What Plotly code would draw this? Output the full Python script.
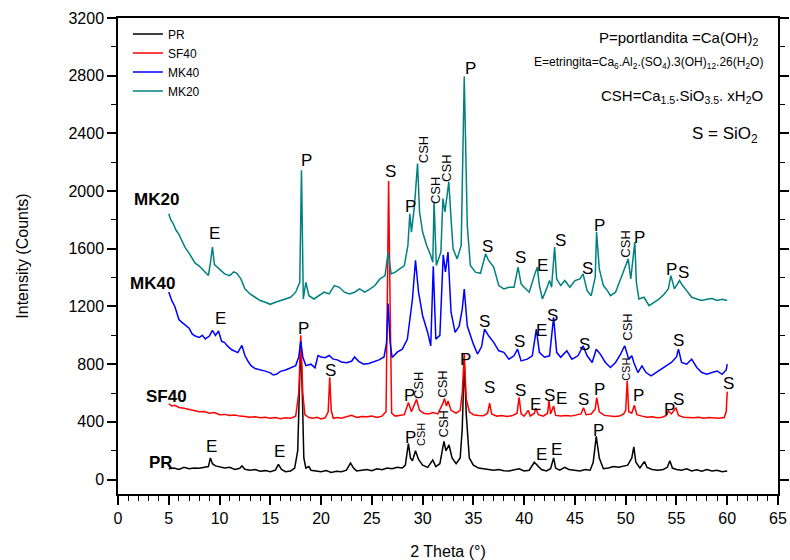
import plotly.graph_objects as go

# ---------------- data ----------------
pr_x = [5.0, 5.5, 6.0, 6.5, 7.0, 7.5, 8.0, 8.5, 8.9, 9.1, 9.3, 9.6, 10.0, 10.5, 11.0, 11.5, 12.0, 12.2, 12.5,
        13.0, 13.5, 14.0, 14.5, 15.0, 15.5, 15.8, 16.1, 16.5, 17.0, 17.4, 17.7, 17.85, 18.0, 18.15, 18.3, 18.5,
        18.8, 19.0, 19.5, 20.0, 20.5, 21.0, 21.5, 22.0, 22.5, 22.9, 23.2, 23.5, 24.0, 24.5, 25.0, 25.5, 26.0,
        26.5, 27.0, 27.5, 28.0, 28.3, 28.6, 28.8, 29.0, 29.3, 29.6, 30.0, 30.5, 31.0, 31.3, 31.7, 32.1, 32.3,
        32.6, 32.9, 33.3, 33.7, 33.9, 34.1, 34.3, 34.6, 35.0, 35.5, 36.0, 36.5, 37.0, 37.5, 38.0, 38.5, 39.0,
        39.5, 40.0, 40.5, 41.0, 41.3, 41.7, 42.2, 42.6, 42.9, 43.1, 43.5, 44.0, 44.4, 45.0, 45.5, 46.0, 46.5,
        46.8, 47.1, 47.4, 47.8, 48.3, 48.8, 49.3, 49.8, 50.2, 50.6, 50.8, 51.0, 51.4, 51.85, 52.1, 52.6, 53.2,
        53.7, 54.1, 54.35, 54.6, 55.0, 55.5, 56.0, 56.5, 57.0, 57.5, 58.0, 58.5, 59.0, 59.5, 60.0]
pr_y = [75, 80, 70, 85, 75, 80, 78, 85, 90, 150, 110, 95, 90, 80, 85, 70, 78, 95, 72,
        65, 70, 58, 62, 55, 65, 105, 70, 55, 60, 80, 200, 600, 960, 600, 150, 80,
        90, 65, 60, 55, 62, 50, 58, 55, 65, 115, 80, 60, 65, 70, 62, 75, 68,
        80, 75, 85, 80, 100, 250, 150, 130, 200, 140, 100, 85, 135, 90, 110, 265, 200,
        240, 150, 110, 150, 350, 820, 450, 150, 100, 80, 75, 70, 65, 70, 62, 60, 65,
        75, 60, 65, 120, 100, 70, 60, 75, 150, 80, 65, 85, 70, 65, 60, 70, 65,
        120, 300, 150, 75, 80, 90, 85, 95, 100, 150, 227, 120, 80, 125, 85, 70, 65,
        70, 85, 130, 80, 70, 65, 75, 60, 68, 58, 70, 60, 65, 55, 60]

sf40_x = [5.0, 5.3, 5.6, 6.0, 6.5, 7.0, 7.5, 8.0, 8.5, 9.0, 9.5, 10.0, 10.5, 11.0, 11.5, 12.0, 12.5, 13.0,
          13.5, 14.0, 14.5, 15.0, 15.5, 16.0, 16.5, 17.0, 17.5, 17.8, 18.0, 18.2, 18.4, 18.8, 19.2, 19.6,
          20.0, 20.4, 20.7, 20.85, 21.0, 21.2, 21.6, 22.0, 22.5, 23.0, 23.5, 24.0, 24.5, 25.0, 25.5, 26.0,
          26.4, 26.55, 26.65, 26.8, 26.95, 27.3, 27.8, 28.2, 28.6, 28.9, 29.4, 29.7, 30.1, 30.6, 31.0, 31.5,
          32.0, 32.15, 32.35, 32.5, 32.8, 33.3, 33.7, 33.9, 34.1, 34.3, 34.6, 35.0, 35.5, 36.0, 36.4, 36.6,
          36.8, 37.3, 37.8, 38.3, 38.8, 39.3, 39.5, 39.7, 40.0, 40.4, 40.6, 41.0, 41.15, 41.4, 41.9, 42.3,
          42.45, 42.6, 42.9, 43.1, 43.6, 44.1, 44.6, 45.1, 45.6, 45.85, 46.1, 46.6, 47.0, 47.15, 47.4, 47.9,
          48.4, 48.9, 49.4, 49.8, 50.0, 50.15, 50.3, 50.6, 50.85, 51.1, 51.6, 52.1, 52.6, 53.1, 53.6, 54.0,
          54.2, 54.5, 54.95, 55.2, 55.7, 56.2, 56.7, 57.2, 57.7, 58.2, 58.7, 59.2, 59.7, 59.9, 60.0]
sf40_y = [525, 510, 515, 500, 495, 485, 480, 470, 472, 460, 465, 450, 452, 445, 448, 440, 438, 432,
          435, 428, 432, 425, 430, 422, 428, 425, 440, 600, 1000, 600, 450, 430, 425, 432,
          420, 428, 470, 710, 480, 425, 430, 425, 435, 445, 430, 438, 435, 440, 430, 440,
          470, 1500, 2070, 1200, 460, 440, 445, 450, 535, 470, 556, 480, 460, 455, 465, 455,
          530, 563, 510, 545, 480, 460, 480, 600, 870, 560, 470, 450, 445, 442, 460, 530,
          455, 440, 445, 438, 442, 460, 570, 455, 440, 480, 440, 460, 494, 450, 440, 460,
          545, 455, 510, 445, 440, 445, 440, 450, 455, 498, 450, 455, 490, 568, 470, 445,
          440, 438, 440, 455, 480, 684, 470, 460, 515, 450, 440, 432, 435, 428, 432, 445,
          475, 455, 498, 445, 432, 430, 428, 432, 425, 430, 428, 425, 430, 470, 610]

mk40_x = [5.0, 5.3, 5.6, 6.0, 6.3, 6.6, 7.0, 7.3, 7.6, 8.0, 8.3, 8.6, 9.0, 9.3, 9.6, 9.9, 10.2, 10.5, 10.8,
          11.2, 11.5, 11.8, 12.2, 12.5, 12.8, 13.1, 13.5, 14.0, 14.5, 15.0, 15.3, 15.6, 16.0, 16.5, 17.0,
          17.5, 17.8, 18.0, 18.2, 18.5, 19.0, 19.4, 19.7, 20.0, 20.4, 20.8, 21.2, 21.6, 22.0, 22.5, 23.0,
          23.3, 23.7, 24.2, 24.7, 25.2, 25.7, 26.2, 26.45, 26.6, 26.8, 27.0, 27.5, 28.0, 28.5, 29.0, 29.3,
          29.6, 30.0, 30.5, 30.8, 31.05, 31.3, 31.7, 32.03, 32.25, 32.5, 32.8, 33.2, 33.6, 33.9, 34.1, 34.4,
          35.0, 35.4, 35.8, 36.1, 36.5, 37.0, 37.5, 38.0, 38.5, 39.0, 39.35, 39.7, 40.3, 40.8, 41.2, 41.5,
          42.0, 42.5, 42.9, 43.2, 43.6, 44.2, 44.7, 45.3, 45.8, 46.2, 46.7, 47.1, 47.5, 48.0, 48.5, 49.0,
          49.5, 49.9, 50.3, 50.6, 50.8, 51.2, 51.6, 52.0, 52.5, 53.0, 53.5, 54.0, 54.5, 55.0, 55.2, 55.5,
          56.0, 56.5, 57.0, 57.5, 58.0, 58.5, 59.0, 59.5, 59.9, 60.0]
mk40_y = [1300, 1240, 1200, 1110, 1090, 1075, 1050, 1010, 995, 985, 1000, 975, 995, 1035, 1000, 1030, 960, 950, 925,
          900, 890, 880, 930, 860, 820, 790, 770, 762, 752, 740, 725, 730, 750, 760, 775,
          790, 850, 960, 850, 790, 800, 775, 860, 850, 845, 860, 835, 830, 815, 810, 820,
          850, 820, 800, 805, 815, 830, 850, 950, 1220, 950, 846, 883, 904, 974, 1252, 1520,
          1300, 1136, 1020, 927, 1478, 974, 1000, 1558, 1440, 1577, 1160, 1020, 1064, 1180, 1320, 1064,
          939, 870, 920, 1043, 997, 951, 893, 882, 835, 858, 904, 823, 835, 858, 1043, 882,
          848, 858, 1125, 882, 848, 893, 835, 858, 928, 858, 812, 904, 870, 812, 777, 812,
          870, 928, 835, 858, 812, 742, 788, 742, 719, 742, 765, 788, 812, 850, 904, 812,
          800, 835, 777, 742, 730, 742, 753, 730, 760, 800]

mk20_x = [5.0, 5.2, 5.4, 5.7, 6.0, 6.3, 6.6, 7.0, 7.3, 7.6, 8.0, 8.3, 8.6, 8.9, 9.1, 9.3, 9.5, 9.8, 10.1,
          10.5, 11.0, 11.4, 11.7, 12.1, 12.5, 13.0, 13.5, 14.0, 14.5, 15.0, 15.5, 16.0, 16.5, 17.0, 17.5,
          17.9, 18.07, 18.25, 18.5, 18.8, 19.3, 19.8, 20.3, 20.8, 21.3, 21.8, 22.3, 22.8, 23.3, 23.8, 24.3,
          24.8, 25.3, 25.8, 26.3, 26.6, 26.9, 27.3, 27.8, 28.2, 28.55, 28.74, 28.9, 29.2, 29.5, 29.7, 30.0,
          30.4, 30.8, 31.0, 31.13, 31.35, 31.8, 32.0, 32.2, 32.58, 32.8, 33.0, 33.4, 33.8, 34.1, 34.4, 34.7,
          35.2, 35.7, 36.2, 36.5, 37.0, 37.5, 38.0, 38.5, 39.0, 39.4, 39.7, 40.0, 40.5, 41.0, 41.3, 41.5,
          41.8, 42.2, 42.5, 42.7, 43.0, 43.2, 43.6, 44.0, 44.5, 45.0, 45.5, 45.8, 46.2, 46.6, 47.0, 47.13,
          47.4, 47.8, 48.2, 48.5, 49.0, 49.5, 50.0, 50.25, 50.5, 50.9, 51.05, 51.3, 51.8, 52.3, 52.8, 53.3,
          53.8, 54.2, 54.45, 54.8, 55.3, 55.6, 56.0, 56.5, 57.0, 57.5, 58.0, 58.5, 59.0, 59.5, 60.0]
mk20_y = [1843, 1800, 1780, 1730, 1700, 1660, 1610, 1570, 1530, 1500, 1480, 1460, 1440, 1415, 1500, 1612, 1490, 1470, 1455,
          1426, 1414, 1440, 1430, 1391, 1322, 1287, 1264, 1241, 1229, 1215, 1229, 1241, 1252, 1264, 1299,
          1368, 2145, 1252, 1368, 1275, 1252, 1275, 1299, 1287, 1345, 1333, 1299, 1287, 1299, 1322, 1299,
          1320, 1345, 1391, 1414, 1577, 1426, 1438, 1461, 1484, 1623, 1843, 1716, 1901, 2191, 1855, 1716,
          1623, 1553, 1507, 1924, 1484, 1577, 1948, 1855, 2064, 1809, 1600, 1530, 1623, 2794, 1762, 1484,
          1438, 1430, 1565, 1519, 1473, 1345, 1322, 1333, 1333, 1473, 1357, 1333, 1299, 1414, 1473, 1345,
          1252, 1322, 1380, 1333, 1612, 1391, 1345, 1380, 1333, 1380, 1391, 1426, 1310, 1275, 1403, 1716,
          1461, 1345, 1310, 1275, 1299, 1391, 1480, 1530, 1391, 1647, 1368, 1252, 1264, 1206, 1229, 1252,
          1287, 1322, 1414, 1322, 1380, 1345, 1310, 1264, 1252, 1241, 1250, 1255, 1241, 1250, 1241]

series_names = ["PR", "SF40", "MK40", "MK20"]
series_colors = ["#000000", "#FF0000", "#0000FF", "#008080"]

# Peak letters: (text, 2theta, counts)
peak_letters = [
    ("E", 9.53, 1704), ("P", 18.56, 2210), ("S", 26.84, 2134), ("P", 28.81, 1892), ("P", 34.75, 2852),
    ("S", 36.39, 1619), ("S", 39.67, 1542), ("E", 41.81, 1484), ("S", 43.62, 1658), ("S", 46.21, 1461),
    ("P", 47.39, 1762), ("P", 51.4, 1681), ("P", 54.52, 1456), ("S", 55.67, 1433),
    ("E", 10.09, 1118), ("P", 18.3, 1048), ("S", 36.13, 1099), ("S", 39.58, 960), ("E", 41.71, 1032),
    ("S", 42.83, 1136), ("S", 45.98, 939), ("S", 55.24, 962),
    ("S", 20.96, 753), ("P", 28.74, 584), ("P", 34.26, 835), ("S", 36.62, 638), ("S", 39.65, 621),
    ("E", 41.15, 522), ("S", 42.46, 584), ("E", 43.68, 561), ("S", 45.88, 557), ("P", 47.39, 626),
    ("P", 51.23, 584), ("P", 54.35, 487), ("S", 55.17, 557), ("S", 60.1, 666),
    ("E", 9.2, 232), ("E", 15.86, 197), ("P", 28.81, 290), ("E", 41.71, 174), ("E", 43.19, 209),
    ("P", 47.29, 343),
]
# CSH labels (vertical): (2theta, counts, small?)
csh_labels = [
    (30.05, 2284, False), (31.2, 2006, False), (32.35, 2157, False), (50.02, 1635, False),
    (50.09, 1057, False), (29.66, 649, False), (31.96, 661, False), (50.09, 765, True),
    (29.89, 313, True), (32.02, 383, False),
]
# Sample names next to the curves: (text, 2theta, counts)
sample_labels = [("MK20", 3.78, 1941), ("MK40", 3.39, 1357), ("SF40", 4.77, 573), ("PR", 4.21, 120)]

# Phase key text block: (html text, 2theta of right edge, counts, font size)
phase_key = [
    ("P=portlandita =Ca(OH)<sub>2</sub>", 63.22, 3061, 15),
    ("E=etringita=Ca<sub>6</sub>.Al<sub>2</sub>.(SO<sub>4</sub>).3(OH)<sub>12</sub>.26(H<sub>2</sub>O)", 63.72, 2887, 12),
    ("CSH=Ca<sub>1.5</sub>.SiO<sub>3.5</sub>. xH<sub>2</sub>O", 63.72, 2657, 15),
    ("S = SiO<sub>2</sub>", 63.22, 2386, 17),
]

FONT = "Arial, Liberation Sans, sans-serif"

fig = go.Figure()
for name, xs, ys, col in zip(series_names, [pr_x, sf40_x, mk40_x, mk20_x],
                              [pr_y, sf40_y, mk40_y, mk20_y], series_colors):
    fig.add_trace(go.Scatter(x=xs, y=ys, mode="lines", name=name,
                             line=dict(color=col, width=1.5)))

ann = []
for t, x, y in peak_letters:
    ann.append(dict(x=x, y=y, text=t, showarrow=False, xanchor="center", yanchor="middle",
                    font=dict(family=FONT, size=17, color="black")))
for x, y, small in csh_labels:
    ann.append(dict(x=x, y=y, text="CSH", showarrow=False, textangle=-90, xanchor="center", yanchor="middle",
                    font=dict(family=FONT, size=11 if small else 13, color="black")))
for t, x, y in sample_labels:
    ann.append(dict(x=x, y=y, text="<b>" + t + "</b>", showarrow=False, xanchor="center", yanchor="middle",
                    font=dict(family=FONT, size=17, color="black")))
for t, x, y, s in phase_key:
    ann.append(dict(x=x, y=y, text=t, showarrow=False, xanchor="right", yanchor="middle",
                    font=dict(family=FONT, size=s, color="black")))

axis_common = dict(showline=True, linecolor="black", linewidth=1.5, ticks="outside", tickcolor="black",
                   tickwidth=1.5, showgrid=False, zeroline=False, automargin=False,
                   tickfont=dict(family=FONT, size=16, color="black"))

fig.update_layout(
    width=790, height=560,
    margin=dict(l=118, r=12, t=18, b=66),
    paper_bgcolor="white", plot_bgcolor="white",
    font=dict(family=FONT, color="black"),
    annotations=ann,
    showlegend=True,
    legend=dict(x=0.015, y=0.997, xanchor="left", yanchor="top", bgcolor="rgba(0,0,0,0)",
                font=dict(family=FONT, size=12, color="black"), itemwidth=30, tracegroupgap=0),
    xaxis=dict(range=[0, 65], dtick=5, tick0=0, ticklen=9, mirror=True,
               minor=dict(dtick=1, ticklen=5, ticks="outside", tickcolor="black", tickwidth=1.2),
               title=dict(text="2 Theta (°)", font=dict(family=FONT, size=16, color="black"), standoff=21),
               **axis_common),
    yaxis=dict(range=[-100, 3200], dtick=400, tick0=0, ticklen=9, mirror="allticks",
               minor=dict(dtick=200, ticklen=5, ticks="outside", tickcolor="black", tickwidth=1.2),
               title=dict(text="Intensity (Counts)", font=dict(family=FONT, size=16, color="black"), standoff=36),
               **axis_common),
)

fig.write_html("out.html")
